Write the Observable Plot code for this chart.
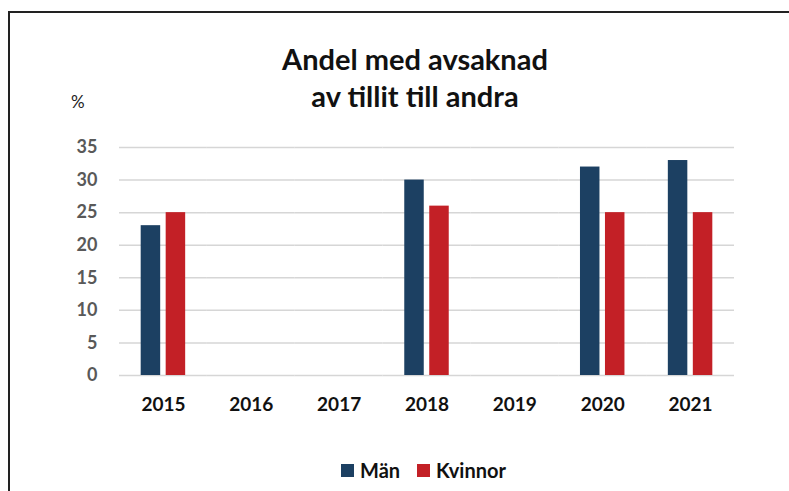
<!DOCTYPE html>
<html>
<head>
<meta charset="utf-8">
<script src="https://cdn.jsdelivr.net/npm/d3@7"></script>
<script src="https://cdn.jsdelivr.net/npm/@observablehq/plot@0.6"></script>
<style>
  html, body { margin: 0; padding: 0; background: #fff; }
  #wrap { position: relative; width: 789px; height: 491px; overflow: hidden; font-family: Lato, "Open Sans", sans-serif; }
  #frame { position: absolute; left: 8px; top: 11px; width: 900px; height: 600px; border: 2px solid #222; box-sizing: border-box; }
  #title { position: absolute; left: 215px; width: 400px; top: 40px; text-align: center; font-weight: 700; font-size: 29px; line-height: 37px; color: #111; }
  #unit { position: absolute; left: 71px; top: 91px; font-size: 17px; color: #222; }
  #plot { position: absolute; left: 0; top: 0; }
  #legend { position: absolute; left: 341px; top: 458px; font-weight: 700; font-size: 20px; color: #111; display: flex; align-items: center; }
  #legend .sw { display: inline-block; width: 13px; height: 13px; margin-right: 6px; }
  #legend .item { display: flex; align-items: center; margin-right: 17px; }
</style>
</head>
<body>
<div id="wrap">
  <div id="frame"></div>
  <div id="plot"></div>
  <div id="title">Andel med avsaknad<br>av tillit till andra</div>
  <div id="unit">%</div>
  <div id="legend"></div>
</div>
<script>
const years = ["2015", "2016", "2017", "2018", "2019", "2020", "2021"];
const series = ["Män", "Kvinnor"];
const colors = ["#1c4062", "#c32026"];
const dataYears = ["2015", "2018", "2020", "2021"];
const man = [23, 30, 32, 33];
const kvinnor = [25, 26, 25, 25];
const yTicks = [0, 5, 10, 15, 20, 25, 30, 35];

const data = [];
dataYears.forEach((y, i) => {
  data.push({year: y, series: "Män", value: man[i]});
  data.push({year: y, series: "Kvinnor", value: kvinnor[i]});
});
// gridlines per year so that every facet (including empty years) is drawn
const grid = [];
years.forEach(y => yTicks.forEach(t => grid.push({year: y, tick: t})));

const chart = Plot.plot({
  width: 789,
  height: 420,
  marginTop: 147,
  marginBottom: 45,
  marginLeft: 119,
  marginRight: 55,
  style: {fontFamily: "Lato, 'Open Sans', sans-serif", background: "transparent"},
  fx: {domain: years, padding: 0, round: false, label: null},
  x: {domain: series, paddingInner: 0.22, paddingOuter: 0.868, round: false, axis: null},
  y: {domain: [0, 35], label: null},
  color: {domain: series, range: colors},
  marks: [
    Plot.ruleY(grid, {fx: "year", y: "tick", stroke: "#d6d6d6", strokeWidth: 1.5}),
    Plot.barY(data, {fx: "year", x: "series", y: "value", fill: "series"}),
    Plot.axisY(yTicks, {facetAnchor: "left", tickSize: 0, tickPadding: 22, fontSize: 18, fontWeight: 700, fill: "#595959", label: null}),
    Plot.axisFx({anchor: "bottom", tickSize: 0, tickPadding: 22, fontSize: 19, fontWeight: 700, fill: "#111", label: null})
  ]
});
document.getElementById("plot").appendChild(chart);

const legend = document.getElementById("legend");
series.forEach((s, i) => {
  const item = document.createElement("span");
  item.className = "item";
  const sw = document.createElement("span");
  sw.className = "sw";
  sw.style.background = colors[i];
  item.appendChild(sw);
  item.appendChild(document.createTextNode(s));
  legend.appendChild(item);
});
</script>
</body>
</html>
